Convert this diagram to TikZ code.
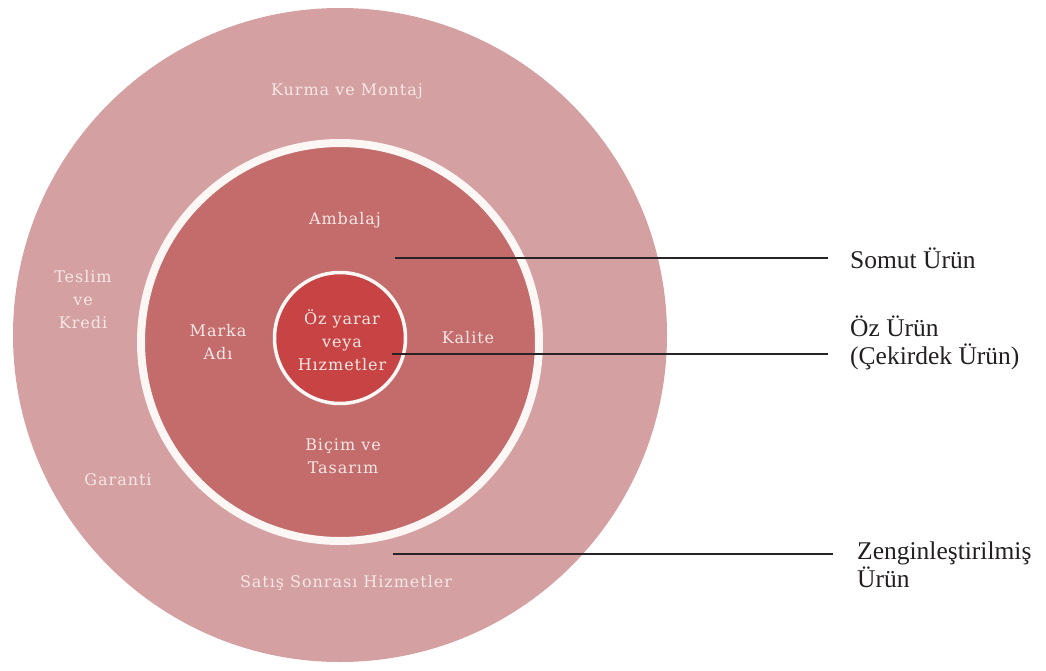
\documentclass[tikz,border=0pt]{standalone}
\usepackage{fontspec}
\setmainfont{Liberation Serif}
\newfontfamily\ringfont[LetterSpace=6]{DejaVu Serif}
\definecolor{outerring}{RGB}{212,160,162}
\definecolor{middisk}{RGB}{196,108,108}
\definecolor{coredisk}{RGB}{200,68,68}
\definecolor{ringtext}{RGB}{246,232,230}
\definecolor{edgewhite}{RGB}{252,246,244}
\definecolor{leader}{RGB}{40,36,38}
\definecolor{labeltext}{RGB}{35,31,32}
\tikzset{
  disk/.style={circle, inner sep=0pt, outer sep=0pt},
  ringlabel/.style={text=ringtext, font=\ringfont\fontsize{16}{23}\selectfont, align=center, inner sep=0pt},
  sidelabel/.style={text=labeltext, font=\fontsize{25.5}{28}\selectfont, align=left, anchor=west, inner sep=0pt},
  leaderline/.style={draw=leader, line width=1.7pt, shorten >=22pt}
}
\begin{document}
\begin{tikzpicture}[x=1pt, y=-1pt]
\useasboundingbox (0,0) rectangle (1046,671);
\fill[white] (0,0) rectangle (1046,671);

% the three nested rings
\node[disk, fill=outerring, minimum size=654pt] (outer) at (340,335) {};
\node[disk, fill=middisk, draw=edgewhite, line width=8pt, minimum size=398pt] (mid) at (340,342) {};
\node[disk, fill=coredisk, draw=edgewhite, line width=3.5pt, minimum size=131pt] (core) at (340,338) {};

% labels inside the rings
\node[ringlabel] (kurma) at (347,91) {Kurma ve Montaj};
\node[ringlabel] (teslim) at (83,300) {Teslim\\ve\\Kredi};
\node[ringlabel] (garanti) at (118,480) {Garanti};
\node[ringlabel] (satis) at (346,583) {Satış Sonrası Hizmetler};
\node[ringlabel] (ambalaj) at (345,220) {Ambalaj};
\node[ringlabel] (marka) at (218,342) {Marka\\Adı};
\node[ringlabel] (kalite) at (468,338) {Kalite};
\node[ringlabel] (bicim) at (343,456) {Biçim ve\\Tasarım};
\node[ringlabel] (oz) at (342,340) {Öz yarar\\veya\\Hızmetler};

% labels at the right
\node[sidelabel] (somut) at (850,258) {Somut Ürün};
\node[sidelabel] (ozurun) at (850,343) {Öz Ürün\\(Çekirdek Ürün)};
\node[sidelabel] (zengin) at (857,565) {Zenginleştirilmiş\\Ürün};

% leader lines
\coordinate (p1) at (395,258);
\coordinate (p2) at (392,354);
\coordinate (p3) at (393,554);
\draw[leaderline] (p1) -- (somut.west |- p1);
\draw[leaderline] (p2) -- (ozurun.west |- p2);
\draw[leaderline, shorten >=24pt] (p3) -- (zengin.west |- p3);
\end{tikzpicture}
\end{document}
